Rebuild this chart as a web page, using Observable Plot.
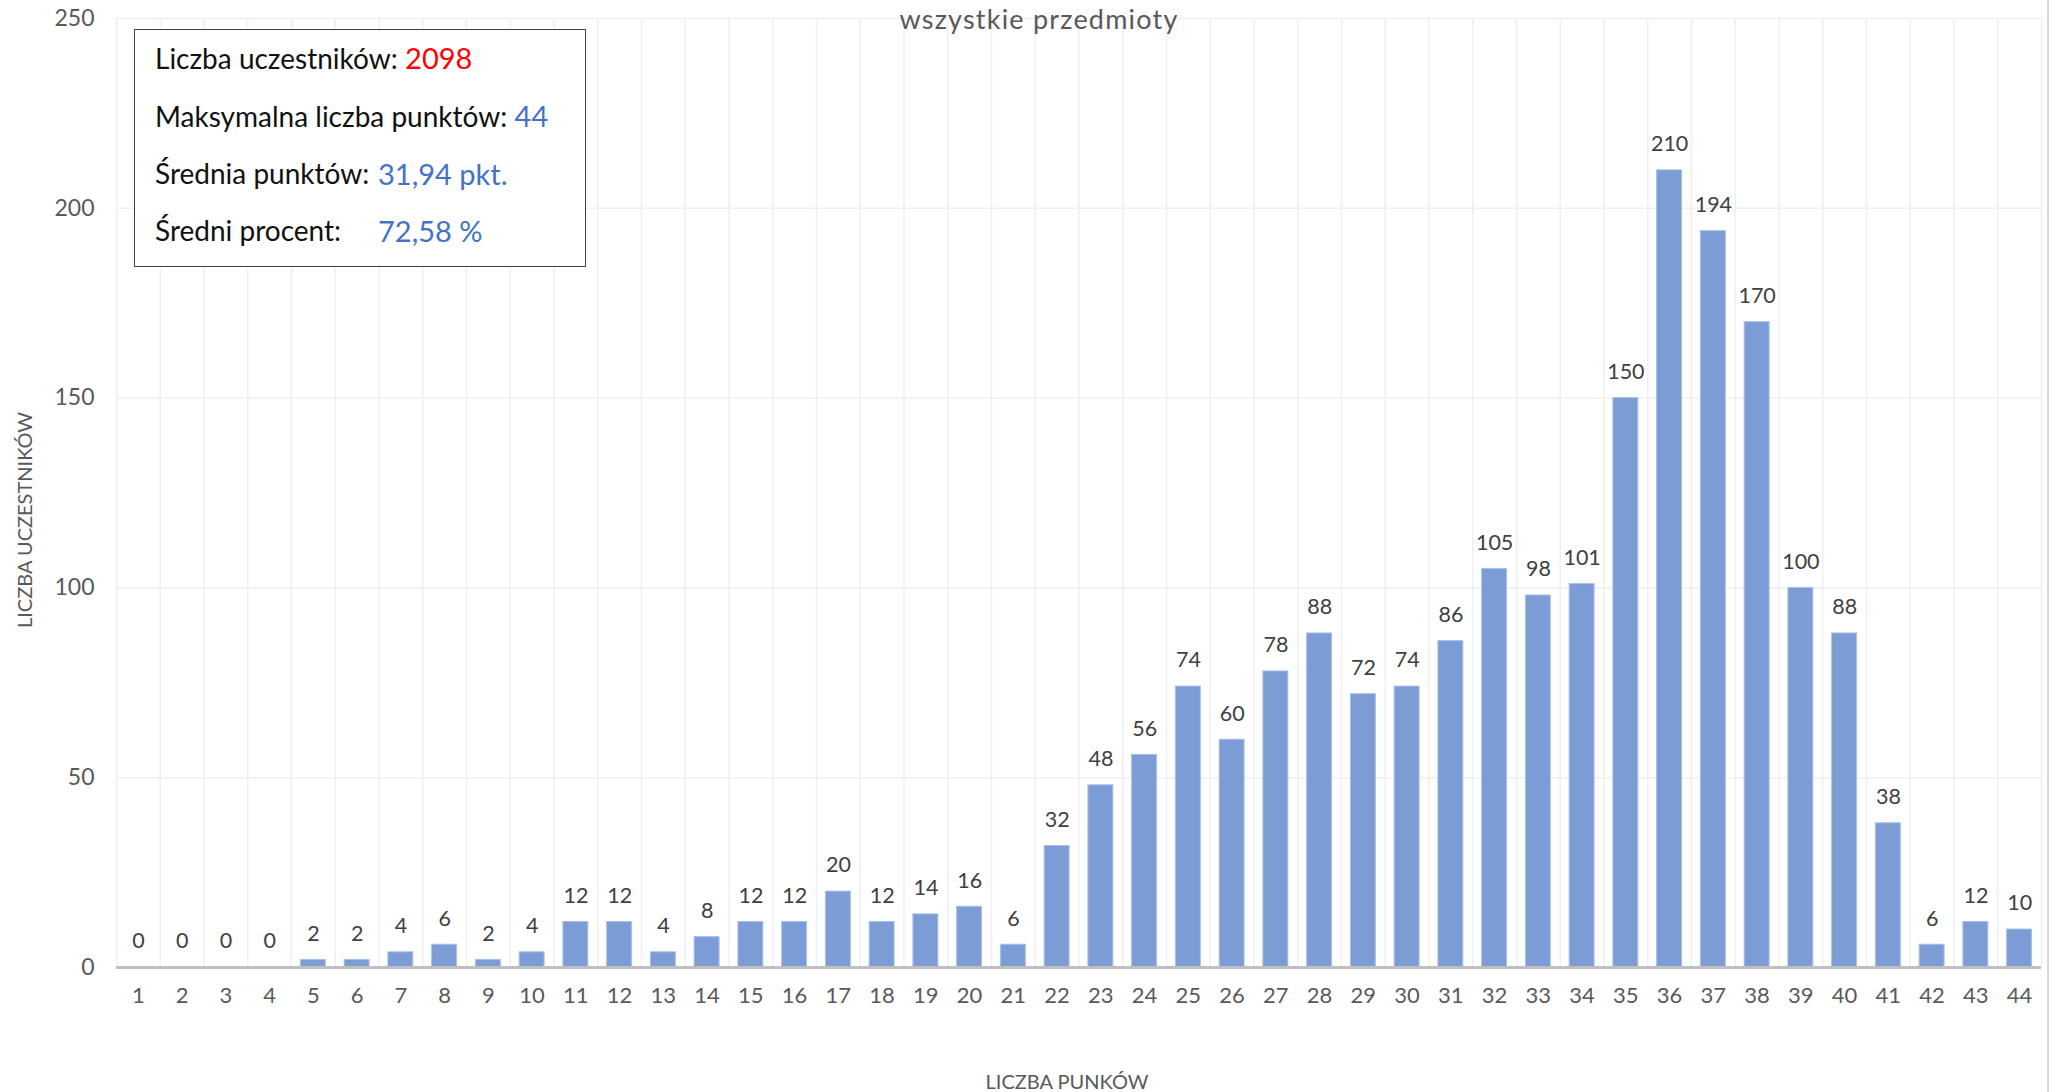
<!DOCTYPE html>
<html><head><meta charset="utf-8">
<script src="https://cdn.jsdelivr.net/npm/d3@7"></script>
<script src="https://cdn.jsdelivr.net/npm/@observablehq/plot@0.6"></script>
<style>
body{margin:0;background:#fff;}
#wrap{position:relative;width:2051px;height:1092px;overflow:hidden;font-family:Lato,sans-serif;background:#fff;}
#wrap svg{position:absolute;left:0;top:0;}
.ov{position:absolute;white-space:nowrap;line-height:1;}
#title{left:1039px;top:18px;transform:translate(-50%,-50%);font-size:27px;color:#595959;letter-spacing:1.2px;}
#ylab{left:24px;top:520px;transform:translate(-50%,-50%) rotate(-90deg);font-size:20px;color:#595959;}
#xlab{left:1067px;top:1081px;transform:translate(-50%,-50%);font-size:20px;color:#595959;}
#box{position:absolute;left:134px;top:29px;width:452px;height:238px;box-sizing:border-box;border:1.5px solid #404040;background:#fff;}
.line{position:absolute;left:20px;transform:translateY(-50%);font-size:28px;color:#111;white-space:nowrap;line-height:1;}
.val{position:absolute;left:243px;transform:translateY(-50%);font-size:29px;color:#4472c4;white-space:nowrap;line-height:1;}
#rb{position:absolute;left:2047px;top:0;width:2px;height:1092px;background:#d9d9d9;}
</style></head><body><div id="wrap"></div>
<script>
const points = [1,2,3,4,5,6,7,8,9,10,11,12,13,14,15,16,17,18,19,20,21,22,23,24,25,26,27,28,29,30,31,32,33,34,35,36,37,38,39,40,41,42,43,44];
const counts = [0,0,0,0,2,2,4,6,2,4,12,12,4,8,12,12,20,12,14,16,6,32,48,56,74,60,78,88,72,74,86,105,98,101,150,210,194,170,100,88,38,6,12,10];
const yTicks = [0,50,100,150,200,250];
const titleText = "wszystkie przedmioty";
const xLabelText = "LICZBA PUNKÓW";
const yLabelText = "LICZBA UCZESTNIKÓW";
const statLabels = ["Liczba uczestników:", "Maksymalna liczba punktów:", "Średnia punktów:", "Średni procent:"];
const statValues = ["2098", "44", "31,94 pkt.", "72,58 %"];
const statColors = ["#ff0000", "#4472c4", "#4472c4", "#4472c4"];

const data = points.map((p, i) => ({p, n: counts[i]}));
const half = 0.285;
const gridX = points.map(p => p - 0.5).concat([points[points.length - 1] + 0.5]);

const plot = Plot.plot({
  width: 2051, height: 1092,
  marginLeft: 116, marginRight: 10, marginTop: 18, marginBottom: 125,
  style: {fontFamily: "Lato, sans-serif", background: "transparent", color: "#595959", overflow: "visible"},
  x: {type: "linear", domain: [0.5, 44.5]},
  y: {domain: [0, 250]},
  marks: [
    Plot.ruleX(gridX, {stroke: "#efefef", strokeWidth: 1.5}),
    Plot.ruleY(yTicks, {stroke: "#efefef", strokeWidth: 1.5}),
    Plot.rectY(data, {x1: d => d.p - half, x2: d => d.p + half, y: "n", fill: "#7b9cd5", stroke: "#a9c0e8", strokeWidth: 1}),
    Plot.ruleY([0], {stroke: "#bfbfbf", strokeWidth: 3}),
    Plot.text(data, {x: "p", y: "n", text: d => String(d.n), dy: -26, fill: "#404040", fontSize: 21.5}),
    Plot.axisX({ticks: points, tickFormat: d => String(d), tickSize: 0, tickPadding: 20, fontSize: 22, label: null}),
    Plot.axisY({ticks: yTicks, tickSize: 0, tickPadding: 22, fontSize: 23, label: null})
  ]
});

const wrap = document.getElementById("wrap");
wrap.appendChild(plot);

function ov(id, text) {
  const d = document.createElement("div");
  d.className = "ov"; d.id = id; d.textContent = text;
  wrap.appendChild(d);
}
ov("title", titleText);
ov("ylab", yLabelText);
ov("xlab", xLabelText);

const box = document.createElement("div");
box.id = "box";
const lineY = [27, 85, 143, 200];
statLabels.forEach((lab, i) => {
  const l = document.createElement("div");
  l.className = "line";
  l.style.top = lineY[i] + "px";
  l.textContent = lab;
  if (i < 2) {
    const s = document.createElement("span");
    s.style.color = statColors[i];
    s.style.fontSize = "29px";
    s.textContent = " " + statValues[i];
    l.appendChild(s);
  } else {
    const v = document.createElement("div");
    v.className = "val";
    v.style.top = lineY[i] + "px";
    v.style.color = statColors[i];
    v.textContent = statValues[i];
    box.appendChild(v);
  }
  box.appendChild(l);
});
wrap.appendChild(box);
const rb = document.createElement("div");
rb.id = "rb";
wrap.appendChild(rb);
</script>
</body></html>
